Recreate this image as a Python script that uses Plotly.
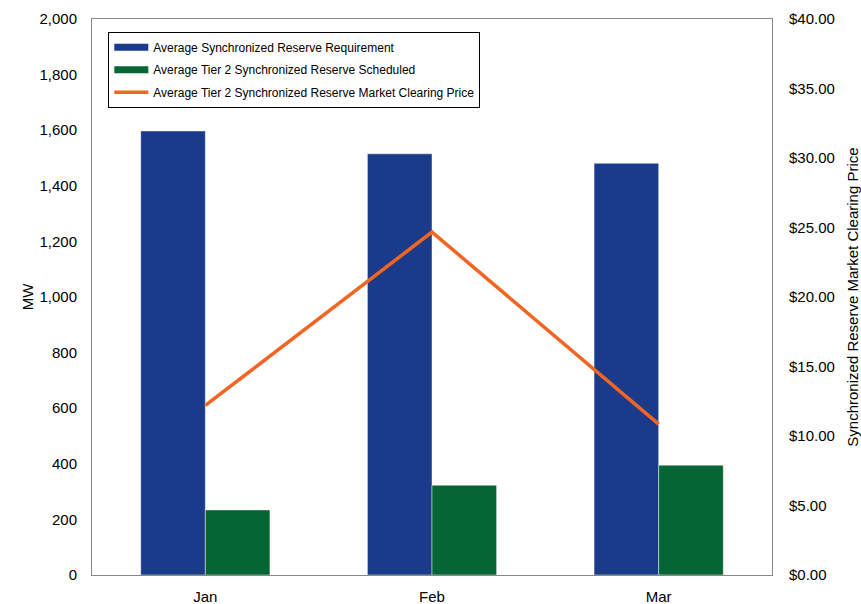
import plotly.graph_objects as go

months = ["Jan", "Feb", "Mar"]
requirement_mw = [1597, 1515, 1481]
tier2_scheduled_mw = [234, 323, 395]
clearing_price = [12.2, 24.67, 10.86]

names = [
    "Average Synchronized Reserve Requirement",
    "Average Tier 2 Synchronized Reserve Scheduled",
    "Average Tier 2 Synchronized Reserve Market Clearing Price",
]
BLUE, GREEN, ORANGE = "#1B3A8A", "#066535", "#F26522"

FONT = "Liberation Sans, Arial, sans-serif"

fig = go.Figure()
fig.add_trace(go.Bar(
    x=months, y=requirement_mw, name=names[0], showlegend=False,
    marker=dict(color=BLUE, line=dict(color="rgba(255,255,255,0.45)", width=1)),
))
fig.add_trace(go.Bar(
    x=months, y=tier2_scheduled_mw, name=names[1], showlegend=False,
    marker=dict(color=GREEN, line=dict(color="rgba(255,255,255,0.45)", width=1)),
))
fig.add_trace(go.Scatter(
    x=months, y=clearing_price, yaxis="y2", mode="lines", name=names[2],
    showlegend=False, line=dict(color=ORANGE, width=3.5),
))

# Legend keys drawn as bands, the way the series are keyed in the report
for i, (nm, col, w) in enumerate([(names[0], BLUE, 7), (names[1], GREEN, 7), (names[2], ORANGE, 3.5)]):
    fig.add_trace(go.Scatter(
        x=[None], y=[None], mode="lines", name=nm, legendgroup=f"g{i}",
        line=dict(color=col, width=w), showlegend=True,
    ))

fig.update_layout(
    width=861, height=604,
    margin=dict(l=92, r=89, t=19, b=29),
    paper_bgcolor="white", plot_bgcolor="white",
    font=dict(family=FONT, size=14, color="#000000"),
    barmode="group", bargap=0.43, bargroupgap=0,
    showlegend=True,
    legend=dict(
        x=0.024, y=0.977, xanchor="left", yanchor="top",
        bgcolor="white", bordercolor="#000000", borderwidth=1,
        font=dict(family=FONT, size=12),
        tracegroupgap=3.5, itemwidth=34,
    ),
    xaxis=dict(
        showline=True, linecolor="#888888", linewidth=1, mirror=True,
        ticks="", tickfont=dict(size=15), automargin=False,
        ticklabelstandoff=8,
    ),
    yaxis=dict(
        title=dict(text="MW", font=dict(size=15), standoff=2),
        range=[0, 2000], dtick=200, tickformat=",",
        showgrid=False, showline=True, linecolor="#888888", linewidth=1,
        ticks="", tickfont=dict(size=15), zeroline=False,
        ticklabelstandoff=11, automargin=False,
    ),
    yaxis2=dict(
        title=dict(text="Synchronized Reserve Market Clearing Price", font=dict(size=15), standoff=19),
        overlaying="y", side="right",
        range=[0, 40], dtick=5, tickprefix="$", tickformat=".2f",
        showgrid=False, showline=True, linecolor="#888888", linewidth=1,
        ticks="", tickfont=dict(size=15), zeroline=False,
        ticklabelstandoff=13, automargin=False,
    ),
)

fig.write_html("out.html")
